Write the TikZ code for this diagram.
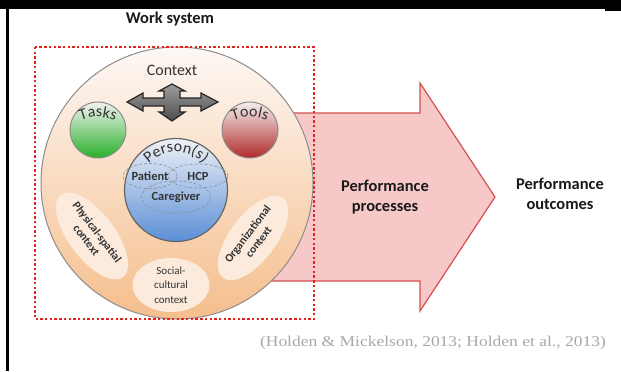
\documentclass[tikz,border=0pt]{standalone}
\usepackage{fontspec}
\setmainfont{Carlito}
\newfontfamily\citefont{Liberation Serif}
\usetikzlibrary{shapes.geometric,decorations.text}

\definecolor{inkdark}{HTML}{333333}
\definecolor{ringedge}{HTML}{8C8C8C}
\definecolor{ctxtop}{HTML}{FDF8F5}
\definecolor{ctxmid}{HTML}{FBE1CF}
\definecolor{ctxbot}{HTML}{F5BE8C}
\definecolor{cream}{HTML}{FCEBDD}
\definecolor{greentop}{HTML}{F2F2F2}
\definecolor{greenmid}{HTML}{A6DDA0}
\definecolor{greenbot}{HTML}{27B027}
\definecolor{redtop}{HTML}{F5EEEE}
\definecolor{redmid}{HTML}{D99496}
\definecolor{redbot}{HTML}{B02A2A}
\definecolor{bluetop}{HTML}{EEF1F6}
\definecolor{bluemid}{HTML}{BACDE8}
\definecolor{bluebot}{HTML}{5B8ED6}
\definecolor{dashgray}{HTML}{8890A0}
\definecolor{pinkedge}{HTML}{F7C8C8}
\definecolor{pinkmid}{HTML}{EC9FA5}
\definecolor{arrowred}{HTML}{D65050}
\definecolor{dotred}{HTML}{E3231C}
\definecolor{citegray}{HTML}{A8A8A8}

\newcommand{\fsz}[1]{\fontsize{#1}{#1}\selectfont}

\begin{document}
\begin{tikzpicture}[x=1bp,y=-1bp,
  ball/.style={circle,draw=ringedge,line width=1bp,inner sep=0pt},
  ctxellipse/.style={ellipse,fill=cream,inner sep=0pt,align=center,
    text=inkdark,font=\fontsize{11.5}{13.5}\selectfont\bfseries},
  member/.style={ellipse,draw=dashgray,densely dashed,line width=0.6bp,
    inner sep=0pt,text=inkdark,font=\fsz{12.5}\bfseries},
  heading/.style={align=center,text=black!90,
    font=\fontsize{16.5}{20}\selectfont\bfseries},
  curvedlabel/.style={decorate,decoration={text along path,
    text align=center,text={|\fsz{16}\color{inkdark}|#1}}}
]
\useasboundingbox (0,0) rectangle (621,371);
\fill[white] (0,0) rectangle (621,371);

% page frame
\fill[black] (0,0) rectangle (621,9);
\fill[black] (605,9) rectangle (621,11);
\fill[black] (6,9) rectangle (9,371);

% broad arrow towards the outcomes
\shadedraw[top color=pinkedge,middle color=pinkmid,bottom color=pinkedge,
  draw=arrowred,line width=1.2bp,line join=miter]
  (260,113) -- (420,113) -- (420,83) -- (495,197) -- (420,311)
  -- (420,281) -- (260,281) -- cycle;

% work system disc
\node[ball,minimum size=272bp,top color=ctxtop,middle color=ctxmid,
  bottom color=ctxbot] (ctx) at (177,183) {};
\node[text=inkdark,font=\fsz{16}] (ctxlbl) at (172,70) {Context};

% context factors
\node[ctxellipse,minimum width=100bp,minimum height=46bp,rotate=-53]
  (phys) at (92,236) {Physical-spatial\\context};
\node[ctxellipse,minimum width=100bp,minimum height=46bp,rotate=53]
  (org) at (253,238) {Organizational\\context};
\node[ctxellipse,minimum width=77bp,minimum height=54bp,
  font=\fontsize{11}{14.5}\selectfont]
  (soc) at (171,285) {Social-\\cultural\\context};

% tasks and tools
\node[ball,minimum size=56bp,top color=greentop,middle color=greenmid,
  bottom color=greenbot] (tasks) at (98,130) {};
\node[ball,minimum size=56bp,top color=redtop,middle color=redmid,
  bottom color=redbot] (tools) at (250,130) {};
\path[curvedlabel=Tasks]
  ([shift={(118:43bp)}]98,160) arc[start angle=118,end angle=62,radius=43bp];
\path[curvedlabel=Tools]
  ([shift={(118:43bp)}]250,160) arc[start angle=118,end angle=62,radius=43bp];

% four-way interaction arrow
\shadedraw[top color=black!38,bottom color=black!70,draw=black!85,
  line width=1.2bp,line join=miter]
  (127,102) -- (143,93) -- (143,98) -- (164,98) -- (164,91) -- (159,91)
  -- (172,84) -- (185,91) -- (180,91) -- (180,98) -- (201,98) -- (201,93)
  -- (218,102) -- (201,111) -- (201,106) -- (180,106) -- (180,112)
  -- (185,112) -- (172,121) -- (159,112) -- (164,112) -- (164,106)
  -- (143,106) -- (143,111) -- cycle;

% persons
\node[ball,minimum size=103bp,line width=1.2bp,draw=black!60,
  top color=bluetop,middle color=bluemid,bottom color=bluebot]
  (per) at (176,190) {};
\path[curvedlabel=Person(s)]
  ([shift={(158:38bp)}]per.center) arc[start angle=158,end angle=22,radius=38bp];
\node[member,minimum width=54bp,minimum height=25bp] (pat) at (150,176) {Patient};
\node[member,minimum width=60bp,minimum height=24bp] (hcp) at (198,176) {HCP};
\node[member,minimum width=68bp,minimum height=32bp] (care) at (176,197) {Caregiver};

% headings
\node[heading] (title) at (170,19) {Work system};
\node[heading] (proc) at (385,197) {Performance\\processes};
\node[heading] (outc) at (560,194) {Performance\\outcomes};

% source
\node[anchor=east,text=citegray,inner sep=0pt] (src) at (606,343)
  {\scalebox{1.17}[1]{\citefont\fsz{15}(Holden \& Mickelson, 2013; Holden et al., 2013)}};

% work system boundary
\draw[dotred,line width=2.4bp,dash pattern=on 2.4bp off 2.3bp]
  (35,47) rectangle (314,319);
\end{tikzpicture}
\end{document}
